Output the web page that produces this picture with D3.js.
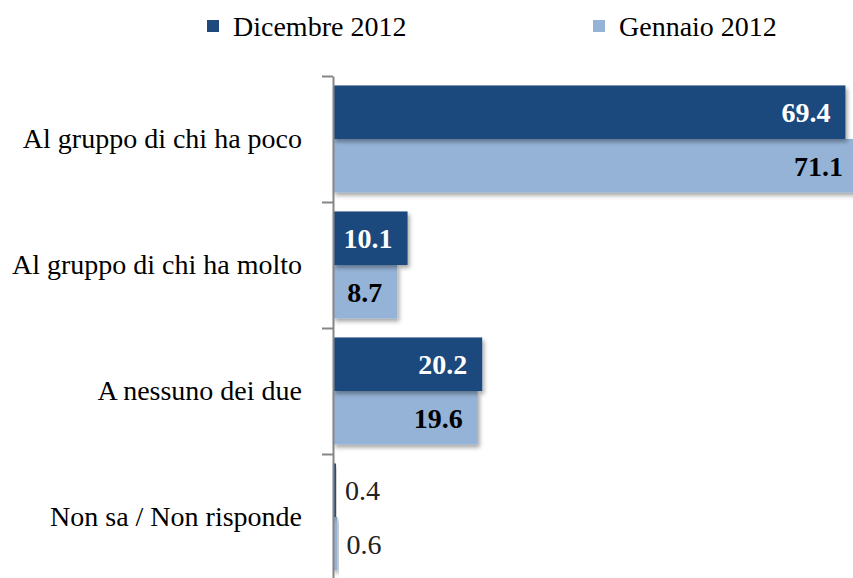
<!DOCTYPE html>
<html>
<head>
<meta charset="utf-8">
<script src="https://cdn.jsdelivr.net/npm/d3@7"></script>
<style>
	body { margin: 0; background: #fff; }
	svg { display: block; font-family: "Liberation Serif", "Times New Roman", serif; }
</style>
</head>
<body>
<div id="chart"></div>
<script>
var categories = ['Al gruppo di chi ha poco', 'Al gruppo di chi ha molto', 'A nessuno dei due', 'Non sa / Non risponde'];
var seriesNames = ['Dicembre 2012', 'Gennaio 2012'];
var dicembre = [69.4, 10.1, 20.2, 0.4];
var gennaio = [71.1, 8.7, 19.6, 0.6];

var colors = ['#1F497D', '#95B3D7'];
var labelColors = ['#fff', '#000'];

var width = 853;
var height = 578;
var axisX = 333;
var plotTop = 76;
var plotBottom = 580;
var fontSize = 28;

var svg = d3.select('#chart')
	.append('svg')
	.attr('width', width)
	.attr('height', height);

var defs = svg.append('defs');
defs.append('filter')
	.attr('id', 'shadow')
	.attr('x', '-5%').attr('y', '-20%')
	.attr('width', '120%').attr('height', '150%')
	.append('feDropShadow')
	.attr('dx', 2).attr('dy', 3)
	.attr('stdDeviation', 2)
	.attr('flood-color', '#000')
	.attr('flood-opacity', 0.35);

var xScale = d3.scaleLinear()
	.domain([0, 71.1])
	.range([axisX, 858]);

var yScale = d3.scaleBand()
	.domain(categories)
	.range([plotTop, plotBottom])
	.paddingInner(0.15)
	.paddingOuter(0.075);

var seriesScale = d3.scaleBand()
	.domain([0, 1])
	.range([0, yScale.bandwidth()]);

var edgeScale = d3.scaleLinear()
	.domain([0, categories.length])
	.range([plotTop, plotBottom]);

var rows = categories.map(function(c, i) {
	return { cat: c, values: [dicembre[i], gennaio[i]] };
});

// bars, light series first so the dark shadow falls on it
var groups = svg.append('g').selectAll('g')
	.data(rows)
	.enter().append('g')
	.attr('transform', function(d) { return 'translate(0,' + yScale(d.cat) + ')'; });

[1, 0].forEach(function(s) {
	groups.append('rect')
		.attr('x', xScale(0))
		.attr('y', seriesScale(s))
		.attr('width', function(d) { return xScale(d.values[s]) - xScale(0); })
		.attr('height', seriesScale.bandwidth())
		.attr('fill', colors[s])
		.attr('filter', 'url(#shadow)');
});

[0, 1].forEach(function(s) {
	groups.append('text')
		.attr('x', function(d) {
			var v = d.values[s];
			return v < 3 ? xScale(v) + 9 : xScale(v) - 15;
		})
		.attr('y', seriesScale(s) + seriesScale.bandwidth() / 2)
		.attr('dy', '0.35em')
		.attr('text-anchor', function(d) { return d.values[s] < 3 ? 'start' : 'end'; })
		.attr('font-size', fontSize)
		.attr('font-weight', function(d) { return d.values[s] < 3 ? 'normal' : 'bold'; })
		.attr('fill', function(d) { return d.values[s] < 3 ? '#222' : labelColors[s]; })
		.text(function(d) { return d.values[s].toFixed(1); });
});

// axis line with ticks at category boundaries
var edgeAxis = d3.axisLeft(edgeScale)
	.tickValues(d3.range(categories.length + 1))
	.tickSize(11)
	.tickSizeOuter(0)
	.tickFormat('');

svg.append('g')
	.attr('transform', 'translate(' + axisX + ',0)')
	.call(edgeAxis)
	.call(function(g) {
		g.selectAll('line, path').attr('stroke', '#868686').attr('stroke-width', 2);
	});

// category labels
var labelAxis = d3.axisLeft(yScale)
	.tickSize(0)
	.tickPadding(31);

svg.append('g')
	.attr('transform', 'translate(' + axisX + ',0)')
	.call(labelAxis)
	.call(function(g) {
		g.select('.domain').remove();
		g.selectAll('text')
			.attr('font-family', '"Liberation Serif", "Times New Roman", serif')
			.attr('font-size', fontSize)
			.attr('fill', '#000');
	});

// legend
var legendX = [207, 593];
var legend = svg.append('g').selectAll('g')
	.data(seriesNames)
	.enter().append('g')
	.attr('transform', function(d, i) { return 'translate(' + legendX[i] + ',26)'; });

legend.append('rect')
	.attr('x', 0).attr('y', -6)
	.attr('width', 12).attr('height', 12)
	.attr('fill', function(d, i) { return colors[i]; });

legend.append('text')
	.attr('x', 26)
	.attr('dy', '0.35em')
	.attr('font-size', fontSize)
	.attr('fill', '#000')
	.text(function(d) { return d; });
</script>
</body>
</html>
